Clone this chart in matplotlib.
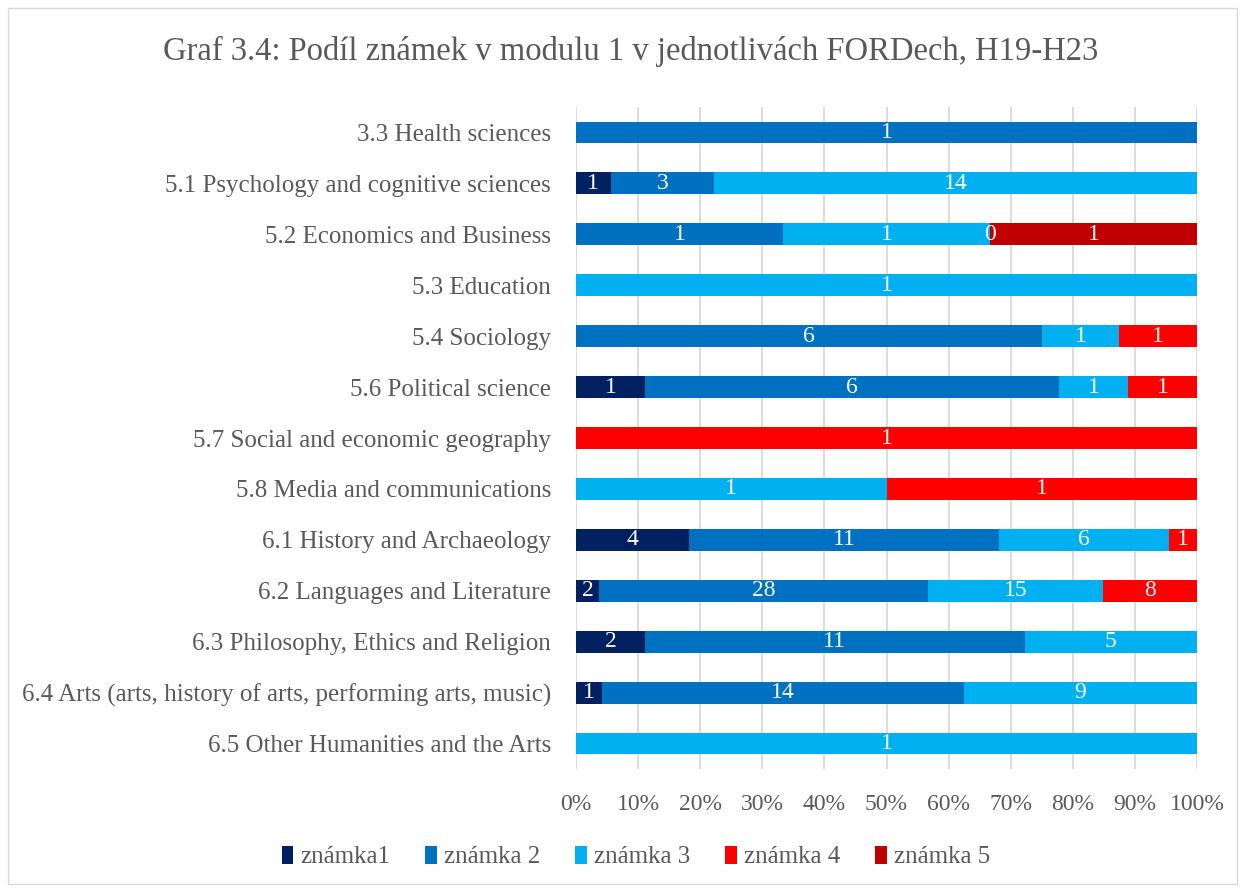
import matplotlib
matplotlib.use("Agg")
import matplotlib.pyplot as plt
import numpy as np
from matplotlib.patches import Rectangle

categories = [
    "3.3 Health sciences",
    "5.1 Psychology and cognitive sciences",
    "5.2 Economics and Business",
    "5.3 Education",
    "5.4 Sociology",
    "5.6 Political science",
    "5.7 Social and economic geography",
    "5.8 Media and communications",
    "6.1 History and Archaeology",
    "6.2 Languages and Literature",
    "6.3 Philosophy, Ethics and Religion",
    "6.4 Arts (arts, history of arts, performing arts, music)",
    "6.5 Other Humanities and the Arts",
]
N = np.nan
znamka1 = [N, 1, N, N, N, 1, N, N, 4, 2, 2, 1, N]
znamka2 = [1, 3, 1, N, 6, 6, N, N, 11, 28, 11, 14, N]
znamka3 = [N, 14, 1, 1, 1, 1, N, 1, 6, 15, 5, 9, 1]
znamka4 = [N, N, 0, N, 1, 1, 1, 1, 1, 8, N, N, N]
znamka5 = [N, N, 1, N, N, N, N, N, N, N, N, N, N]
series_names = ["známka1", "známka 2", "známka 3", "známka 4", "známka 5"]
colors = ["#002060", "#0070C0", "#00B0F0", "#FF0000", "#C00000"]
tick_labels = ["0%", "10%", "20%", "30%", "40%", "50%", "60%", "70%", "80%", "90%", "100%"]

plt.rcParams['font.family'] = ['Liberation Serif', 'DejaVu Serif']

data = np.array([znamka1, znamka2, znamka3, znamka4, znamka5], dtype=float)
vals = np.nan_to_num(data)
totals = vals.sum(axis=0)
shares = vals / totals

fig = plt.figure(figsize=(12.45, 8.89), dpi=100)
W, H = 1245, 889
ax = fig.add_axes([576 / W, 1 - 769 / H, (1197 - 576) / W, (769 - 107) / H])

y = np.arange(len(categories))
left = np.zeros(len(categories))
for i, (name, col) in enumerate(zip(series_names, colors)):
    ax.barh(y, shares[i], left=left, height=0.43, color=col, label=name, zorder=3)
    for j in range(len(categories)):
        if not np.isnan(data[i, j]):
            ax.text(left[j] + shares[i, j] / 2, y[j], f"{int(data[i, j])}",
                    ha="center", va="center", color="white", fontsize=17, zorder=4)
    left = left + shares[i]

ax.set_xlim(0, 1)
ax.set_ylim(len(categories) - 0.5, -0.5)
ax.set_yticks(y)
ax.set_yticklabels(categories, fontsize=18, color="#595959")
ax.set_xticks(np.linspace(0, 1, 11))
ax.set_xticklabels(tick_labels, fontsize=17, color="#595959")
ax.tick_params(axis="both", length=0)
ax.tick_params(axis="y", pad=18)
ax.tick_params(axis="x", pad=18)
ax.grid(axis="x", color="#D9D9D9", linewidth=1.3, zorder=0)
for s in ax.spines.values():
    s.set_visible(False)

fig.text(631 / W, 1 - 51 / H, "Graf 3.4: Podíl známek v modulu 1 v jednotlivách FORDech, H19-H23",
         ha="center", va="center", fontsize=23.5, color="#595959")

handles, labels = ax.get_legend_handles_labels()
fig.legend(handles, labels, loc="center", bbox_to_anchor=(636 / W, 1 - 857 / H), ncol=5,
           frameon=False, fontsize=18, labelcolor="#595959", handlelength=0.45, handleheight=0.75,
           handletextpad=0.3, columnspacing=1.4)

fig.patches.append(Rectangle((8 / W, 1 - 884 / H), (1237 - 8) / W, (884 - 8) / H,
                             transform=fig.transFigure, fill=False, edgecolor="#D9D9D9", linewidth=1))

fig.savefig("out.png", dpi=100)
